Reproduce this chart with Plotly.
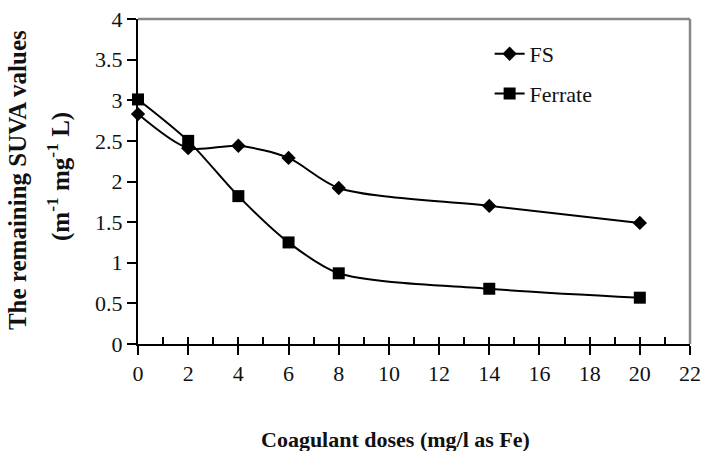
import plotly.graph_objects as go

doses = [0, 2, 4, 6, 8, 14, 20]
fs_values = [2.83, 2.41, 2.44, 2.29, 1.92, 1.70, 1.49]
ferrate_values = [3.01, 2.50, 1.82, 1.25, 0.87, 0.68, 0.57]
x_ticks = list(range(0, 23, 2))
y_ticks = [0, 0.5, 1, 1.5, 2, 2.5, 3, 3.5, 4]
y_tick_labels = ["0", "0.5", "1", "1.5", "2", "2.5", "3", "3.5", "4"]

SERIF = "Liberation Serif"
L, R, T, B = 138, 13, 19, 107

fig = go.Figure()
fig.add_trace(go.Scatter(
    x=doses, y=fs_values, name="FS", mode="lines+markers",
    line=dict(color="black", width=2, shape="spline", smoothing=0.8),
    marker=dict(symbol="diamond", size=11, color="black"),
    legendgroup="a", cliponaxis=False))
fig.add_trace(go.Scatter(
    x=doses, y=ferrate_values, name="Ferrate", mode="lines+markers",
    line=dict(color="black", width=2, shape="spline", smoothing=0.8),
    marker=dict(symbol="square", size=12, color="black"),
    legendgroup="b", cliponaxis=False))
# invisible trace bound to overlay axis for inside minor ticks
fig.add_trace(go.Scatter(x=[0], y=[0], xaxis="x2", mode="markers",
                         marker=dict(opacity=0), showlegend=False, hoverinfo="skip"))

fig.update_layout(
    width=703, height=451,
    margin=dict(l=L, r=R, t=T, b=B, autoexpand=False),
    paper_bgcolor="white", plot_bgcolor="white",
    font=dict(family=SERIF, size=22, color="#111"),
    showlegend=True,
    legend=dict(x=0.637, y=0.957, xanchor="left", yanchor="top",
                bgcolor="rgba(0,0,0,0)", font=dict(size=22, family=SERIF, color="#111"),
                tracegroupgap=8, traceorder="grouped", itemwidth=30),
    xaxis=dict(range=[0, 22], tickvals=x_ticks, ticktext=[str(v) for v in x_ticks],
               ticks="outside", ticklen=9, tickwidth=1.5, tickcolor="black",
               showline=True, linecolor="black", linewidth=2,
               showgrid=False, zeroline=False, fixedrange=True,
               tickfont=dict(size=22, family=SERIF, color="#111")),
    xaxis2=dict(range=[0, 22], overlaying="x", side="bottom", dtick=1, tick0=0,
                ticks="inside", ticklen=7, tickwidth=1.5, tickcolor="black",
                showticklabels=False, showgrid=False, zeroline=False, showline=False),
    yaxis=dict(range=[0, 4], tickvals=y_ticks, ticktext=y_tick_labels,
               ticks="outside", ticklen=9, tickwidth=1.5, tickcolor="black",
               showline=True, linecolor="black", linewidth=2,
               showgrid=False, zeroline=False,
               tickfont=dict(size=22, family=SERIF, color="#111")),
    shapes=[
        dict(type="line", xref="paper", yref="paper", x0=0, x1=1, y0=1, y1=1,
             line=dict(color="#888", width=2.5), layer="below"),
        dict(type="line", xref="paper", yref="paper", x0=1, x1=1, y0=0, y1=1,
             line=dict(color="#888", width=2.5), layer="below"),
    ],
    annotations=[
        dict(text="<b>The remaining SUVA values</b>", xref="paper", yref="paper",
             x=-0.217, y=0.505, textangle=-90, showarrow=False,
             xanchor="center", yanchor="middle", font=dict(size=25, family=SERIF, color="#111")),
        dict(text="<b>(m<sup>-1</sup> mg<sup>-1</sup> L)</b>", xref="paper", yref="paper",
             x=-0.143, y=0.514, textangle=-90, showarrow=False,
             xanchor="center", yanchor="middle", font=dict(size=25, family=SERIF, color="#111")),
        dict(text="<b>Coagulant doses (mg/l as Fe)</b>", xref="paper", yref="paper",
             x=0.4656, y=-0.295, showarrow=False,
             xanchor="center", yanchor="middle", font=dict(size=22, family=SERIF, color="#111")),
    ],
)

fig.write_html("out.html")
